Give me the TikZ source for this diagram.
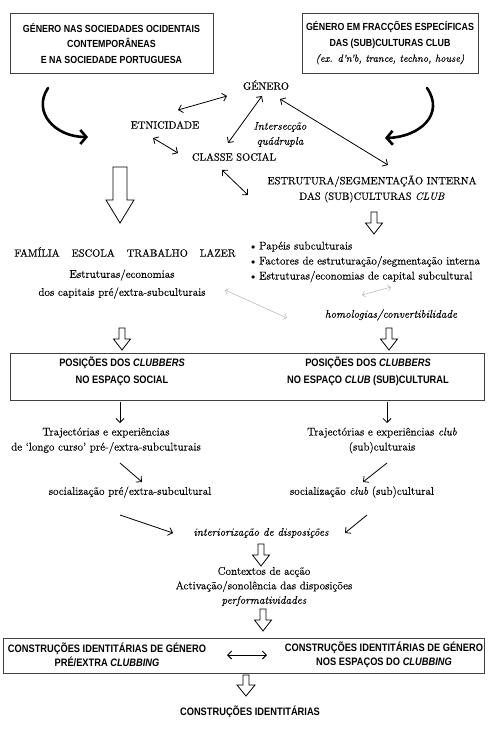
\documentclass[tikz,border=0pt]{standalone}
\usepackage{fontspec}
\setmainfont{Latin Modern Roman}[FakeBold=0.2]
\newfontfamily\boxfont[FakeStretch=0.86]{Liberation Sans}
\usetikzlibrary{calc,arrows.meta}

\begin{document}
\begin{tikzpicture}[x=1pt,y=-1pt,
    txt/.style={font=\fontsize{11.2}{15}\selectfont, align=center, inner sep=1pt},
    captxt/.style={txt, font=\fontsize{10.5}{15.5}\selectfont},
    itxt/.style={txt, font=\itshape\fontsize{11.2}{15}\selectfont},
    titlebox/.style={draw=black!75, line width=0.8pt, align=center, minimum height=60pt,
      font=\boxfont\bfseries\fontsize{10.3}{15.5}\selectfont},
    frame/.style={draw=black!75, line width=0.8pt},
    boxtxt/.style={align=center, inner sep=1pt, font=\boxfont\bfseries\fontsize{10.8}{17}\selectfont},
    arr/.style={line width=0.8pt, -{Straight Barb[length=4pt,width=8pt]}},
    dbl/.style={line width=0.8pt, {Straight Barb[length=4pt,width=8pt]}-{Straight Barb[length=4pt,width=8pt]}},
    faint/.style={gray!60, line width=0.5pt, {Straight Barb[length=3pt,width=6pt]}-{Straight Barb[length=3pt,width=6pt]}},
    curl/.style={line width=2.6pt, line cap=round, -{Straight Barb[length=6pt,width=14pt]}},
    pics/hollow/.style n args={4}{code={
      \draw[line width=0.8pt, line join=miter, fill=white]
        (-#1,0) -- (-#1,#4-#3) -- (-#2,#4-#3) -- (0,#4) -- (#2,#4-#3) -- (#1,#4-#3) -- (#1,0) -- cycle;
    }}]
  \useasboundingbox (0,0) rectangle (488,733);

  % the two sources
  \node[titlebox, minimum width=203pt] (soc) at (111.5,43) {GÉNERO NAS SOCIEDADES OCIDENTAIS\\CONTEMPORÂNEAS\\E NA SOCIEDADE PORTUGUESA};
  \node[titlebox, minimum width=176pt] (club) at (390,43) {GÉNERO EM FRACÇÕES ESPECÍFICAS\\DAS (SUB)CULTURAS CLUB\\{\rmfamily\mdseries\itshape (ex. d’n’b, trance, techno, house)}};

  \coordinate (soc-out) at (48,88);
  \coordinate (soc-in) at (88,137);
  \coordinate (club-out) at (427,88);
  \coordinate (club-in) at (385,138);
  \draw[curl] (soc-out) .. controls (32,112) and (55,137) .. (soc-in);
  \draw[curl] (club-out) .. controls (445,114) and (420,137) .. (club-in);

  % intersection
  \node[captxt] (gen) at (266,85) {GÉNERO};
  \node[captxt] (etn) at (165,125) {ETNICIDADE};
  \node[captxt] (cls) at (234,157) {CLASSE SOCIAL};
  \node[itxt] (inter) at (280,134.5) {Intersecção\\quádrupla};
  \node[captxt] (est) at (372,189) {ESTRUTURA/SEGMENTAÇÃO INTERNA\\DAS (SUB)CULTURAS \textit{CLUB}};

  \draw[dbl] ($(etn)+(13,-15)$) -- ($(gen)+(-39,11)$);
  \draw[dbl] ($(gen)+(-4,11)$) -- ($(cls)+(-6,-14)$);
  \draw[dbl] ($(gen)+(14,14)$) -- ($(est)+(16,-24)$);
  \draw[dbl] ($(etn)+(-12,13)$) -- ($(cls)+(-56,-4)$);
  \draw[dbl] ($(cls)+(-12,13)$) -- ($(est)+(-124,6)$);

  \pic at (120,167) {hollow={7}{14}{23}{56}};
  \pic at (374,212) {hollow={3}{8.5}{11}{22}};

  % capitals
  \node[captxt] (fam) at (125,252) {FAMÍLIA\hspace{12pt}ESCOLA\hspace{12pt}TRABALHO\hspace{12pt}LAZER};
  \node[txt] (ecn) at (122,284) {Estruturas/economias\\[3pt]dos capitais pré/extra-subculturais};
  \node[txt, align=left, anchor=west] (bul) at (250,262) {$\scriptstyle\bullet$ Papéis subculturais\\$\scriptstyle\bullet$ Factores de estruturação/segmentação interna\\$\scriptstyle\bullet$ Estruturas/economias de capital subcultural};
  \node[itxt] (hom) at (391,315) {homologias/convertibilidade};

  \draw[faint] ($(ecn)+(103,6)$) -- ($(hom)+(-104,3)$);
  \draw[faint] ($(hom)+(-29,-20)$) -- ($(bul.west)+(141,25)$);

  \pic at (122,328) {hollow={3}{8.5}{11}{22}};
  \pic at (389,328) {hollow={3}{8.5}{11}{22}};

  % positions
  \node[frame, minimum width=474pt, minimum height=47pt] (pos) at (247,376.5) {};
  \node[boxtxt] (p1) at (122,371.5) {POSIÇÕES DOS \textit{CLUBBERS}\\NO ESPAÇO SOCIAL};
  \node[boxtxt] (p2) at (368,371.5) {POSIÇÕES DOS \textit{CLUBBERS}\\NO ESPAÇO \textit{CLUB} (SUB)CULTURAL};

  \node[txt] (t1) at (106,440.5) {Trajectórias e experiências\\de ‘longo curso’ pré-/extra-subculturais};
  \node[txt] (t2) at (382,440.5) {Trajectórias e experiências \textit{club}\\(sub)culturais};
  \draw[arr] ($(p1)+(-2,30.5)$) -- ($(t1)+(14,-17.5)$);
  \draw[arr] ($(p2)+(19,30.5)$) -- ($(t2)+(5,-17.5)$);

  \node[txt] (s1) at (130,492) {socialização pré/extra-subcultural};
  \node[txt] (s2) at (362,492) {socialização \textit{club} (sub)cultural};
  \draw[arr] ($(t1)+(14,22.5)$) -- ($(s1)+(12,-10)$);
  \draw[arr] ($(t2)+(5,22.5)$) -- ($(s2)+(1,-10)$);

  \node[itxt] (int) at (261,533) {interiorização de disposições};
  \draw[arr] ($(s1)+(-10,23)$) -- ($(int)+(-88,0)$);
  \draw[arr] ($(s2)+(5,23)$) -- ($(int)+(84,0)$);

  \pic at (261,544) {hollow={3}{8.5}{11}{22}};
  \node[txt, font=\fontsize{11.2}{14.5}\selectfont] (ctx) at (264,586.5) {Contextos de acção\\Activação/sonolência das disposições\\\textit{performatividades}};
  \pic at (263,609) {hollow={3}{8.5}{11}{22}};

  % identity constructions
  \node[frame, minimum width=481pt, minimum height=35pt] (cid) at (243.5,655.5) {};
  \node[boxtxt, font=\boxfont\bfseries\fontsize{10.8}{14}\selectfont] (c1) at (107,655) {CONSTRUÇÕES IDENTITÁRIAS DE GÉNERO\\PRÉ/EXTRA \textit{CLUBBING}};
  \node[boxtxt, font=\boxfont\bfseries\fontsize{10.8}{14}\selectfont] (c2) at (384,655) {CONSTRUÇÕES IDENTITÁRIAS DE GÉNERO\\NOS ESPAÇOS DO \textit{CLUBBING}};
  \draw[dbl, line width=1pt] ($(c1)+(120,0)$) -- ($(c2)+(-117,0)$);

  \pic at (246,675) {hollow={3}{9}{11}{21}};
  \node[boxtxt] (fin) at (250,712) {CONSTRUÇÕES IDENTITÁRIAS};
\end{tikzpicture}
\end{document}
